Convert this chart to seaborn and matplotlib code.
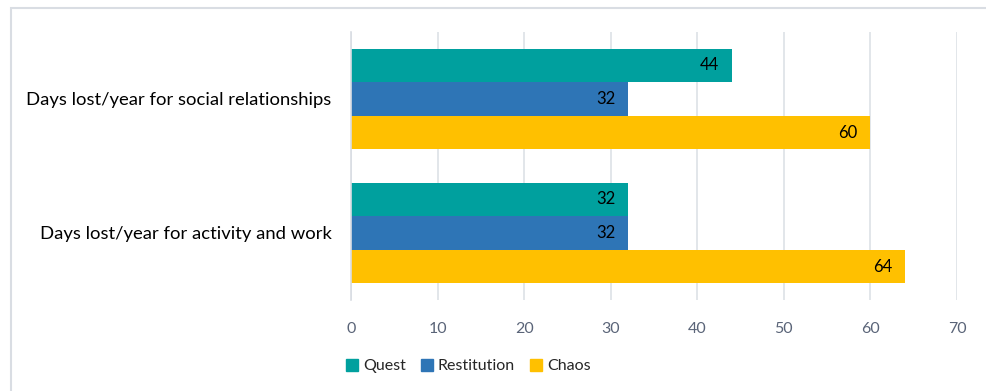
import matplotlib
matplotlib.use("Agg")
import matplotlib.pyplot as plt
import seaborn as sns
import pandas as pd
from matplotlib.patches import Rectangle
from matplotlib.lines import Line2D

categories = ["Days lost/year for social relationships", "Days lost/year for activity and work"]
series = ["Quest", "Restitution", "Chaos"]
quest = [44, 32]
restitution = [32, 32]
chaos = [60, 64]
colors = ["#00A09E", "#2E75B6", "#FFC000"]

rows = []
for s, vals in zip(series, [quest, restitution, chaos]):
    for c, v in zip(categories, vals):
        rows.append({"category": c, "series": s, "value": v})
df = pd.DataFrame(rows)

sns.set_style("white")
plt.rcParams["font.family"] = ["Lato", "DejaVu Sans"]

fig = plt.figure(figsize=(9.86, 3.91), dpi=100)
ax = fig.add_axes([351/986, 91/391, (957-351)/986, 268/391])

sns.barplot(data=df, y="category", x="value", hue="series", order=categories,
            hue_order=series, palette=colors, orient="h", width=0.75,
            saturation=1, ax=ax, legend=False, edgecolor="none")

for cont in ax.containers:
    ax.bar_label(cont, padding=-23, fontsize=12, color="black")

ax.set_xlim(0, 70)
ax.set_ylim(1.5, -0.5)
ax.set_xticks(range(0, 71, 10))
ax.grid(axis="x", color="#DDE1E6", linewidth=1.2)
ax.set_axisbelow(True)
for sp in ["top", "right", "bottom"]:
    ax.spines[sp].set_visible(False)
ax.spines["left"].set_color("#D9DDE3")
ax.spines["left"].set_linewidth(1.2)
ax.set_xlabel("")
ax.set_ylabel("")
ax.tick_params(axis="x", length=0, labelsize=11.5, labelcolor="#5A6478", pad=16)
ax.tick_params(axis="y", length=0, labelsize=13.3, labelcolor="black", pad=14)

handles = [Line2D([], [], marker="s", linestyle="", markersize=9, color=c) for c in colors]
fig.legend(handles, series, loc="center", bbox_to_anchor=(468/986, 1 - 366/391),
           ncol=3, frameon=False, fontsize=11.5, handletextpad=0.3, columnspacing=0.9,
           handlelength=0.8)

fig.patches.append(Rectangle((11/986, -0.1), 1.2, (391-8)/391 + 0.1, transform=fig.transFigure,
                             fill=False, edgecolor="#D9DDE3", linewidth=1.5))

fig.savefig("out.png", dpi=100)
